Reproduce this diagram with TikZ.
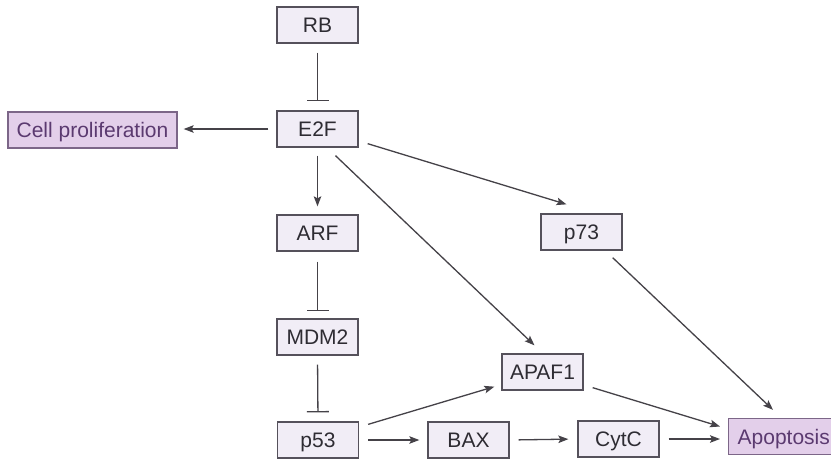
\documentclass[tikz,border=0pt]{standalone}
\usepackage{fontspec}
\setmainfont{Liberation Sans}
\usetikzlibrary{arrows.meta,calc}

\definecolor{genefill}{HTML}{F1EDF6}
\definecolor{geneline}{HTML}{55515B}
\definecolor{genetext}{HTML}{2E2C33}
\definecolor{outfill}{HTML}{E3CFEA}
\definecolor{outline}{HTML}{7C6688}
\definecolor{outtext}{HTML}{5B3A70}
\definecolor{wire}{HTML}{454248}

\tikzset{
  gene/.style={draw=geneline, fill=genefill, text=genetext, line width=1.3pt,
    minimum width=81pt, minimum height=36pt, inner sep=0pt,
    font=\fontsize{21}{23}\selectfont, text height=15pt, text depth=0pt},
  outcome/.style={gene, draw=outline, fill=outfill, text=outtext},
  act/.style={draw=wire, line width=1.3pt, -{Stealth[length=10pt,width=7.5pt,inset=2pt]}},
  inh/.style={draw=wire, line width=1.3pt, -{Bar[width=22pt,line width=1.3pt]}},
}

\begin{document}
\begin{tikzpicture}[x=1pt, y=-1pt]
  \useasboundingbox (0,0) rectangle (831,459);
  \fill[white] (0,0) rectangle (831,459);
  \clip (0,0) rectangle (831,459);

  % regulators and targets
  \node[gene] (RB)   at (317.5,25)  {RB};
  \node[gene] (E2F)  at (317.5,129) {E2F};
  \node[gene] (ARF)  at (317.5,233) {ARF};
  \node[gene] (MDM2) at (317.5,337) {MDM2};
  \node[gene] (p53)  at (318,440)   {p53};
  \node[gene] (BAX)  at (468.5,440) {BAX};
  \node[gene] (CytC) at (618.5,439) {CytC};
  \node[gene] (APAF1) at (542.5,372) {APAF1};
  \node[gene] (p73)  at (581.5,232) {p73};

  % cellular outcomes
  \node[outcome, minimum width=169pt] (prolif) at (92.5,130) {Cell proliferation};
  \node[outcome, minimum width=124pt, anchor=west, text width=116pt, align=left]
    (apop) at (728,436.5) {\hspace*{5pt}Apoptosis};

  % inhibitions
  \draw[inh, shorten <=9pt, shorten >=9pt] (RB.south) -- (E2F.north);
  \draw[inh, shorten <=10pt, shorten >=7pt] (ARF.south) -- (MDM2.north);
  \draw[inh, shorten <=9pt, shorten >=9pt] (MDM2.south) -- (p53.north);

  % activations
  \draw[act, shorten <=8pt, shorten >=6pt] (E2F.west) -- (E2F.west -| prolif.east);
  \draw[act, shorten <=8pt, shorten >=8pt] (E2F.south) -- (ARF.north);
  \draw[act] ([shift={(9,-4)}]E2F.south east) -- ([shift={(-15,-9)}]p73.north);
  \draw[act] ([shift={(18,8)}]E2F.south) -- ([shift={(-8,-8)}]APAF1.north);
  \draw[act] ([shift={(-10,7)}]p73.south east) -- ([shift={(45,-8)}]apop.north west);
  \draw[act] ([shift={(9,-3)}]APAF1.south east) -- ([shift={(-8,-10)}]apop.west);
  \draw[act] ([shift={(9,3)}]p53.north east) -- ([shift={(-7,-4)}]APAF1.south west);
  \draw[act, shorten <=9pt, shorten >=8pt] (p53.east) -- (BAX.west);
  \draw[act, shorten <=9pt, shorten >=9pt] (BAX.east) -- (CytC.west);
  \draw[act, shorten <=9pt, shorten >=8pt] (CytC.east) -- (CytC.east -| apop.west);
\end{tikzpicture}
\end{document}
